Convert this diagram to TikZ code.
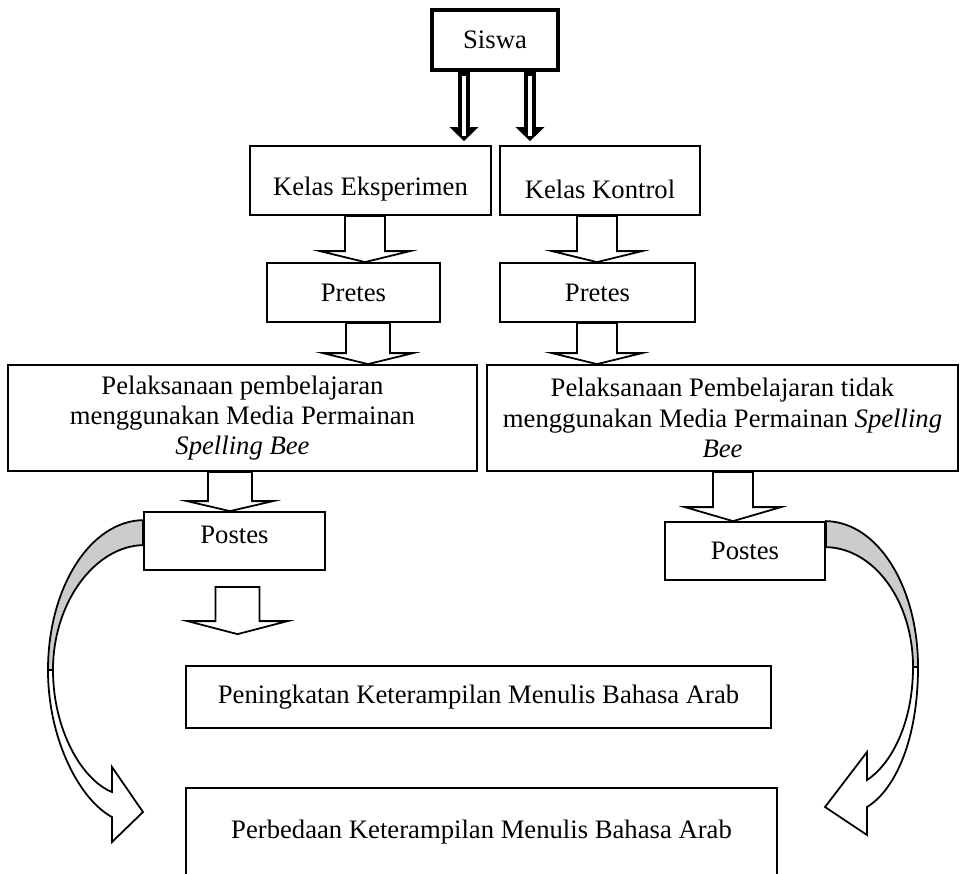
\documentclass[tikz,border=0pt]{standalone}
\usepackage{fontspec}
\setmainfont{Liberation Serif}
\usetikzlibrary{arrows.meta, calc}
\tikzset{
  stagebox/.style={
    rectangle, draw, line width=0.8pt, fill=white, align=center,
    inner sep=2pt, font=\fontsize{12}{13.6}\selectfont
  },
  boxsize/.style 2 args={
    minimum width=#1*0.45pt, minimum height=#2*0.45pt
  },
  blockarrow/.style={
    draw, line width=0.8pt, fill=white, line join=miter
  },
  doublearrow/.style={
    line width=5.4pt, -{Triangle[width=12.6pt, length=6.3pt]}
  },
  doubleslit/.style={
    white, line width=1.6pt
  },
  twistback/.style={
    draw, line width=0.8pt, fill=gray!40
  },
  twistfront/.style={
    draw, line width=0.8pt, fill=white, line join=miter
  }
}
% #1 from, #2 to, #3 x, #4 shaft half, #5 head half, #6 head length, #7 top gap, #8 bottom gap
\newcommand{\blockdown}[8]{%
  \draw[blockarrow]
    ($(#1.south -| #3-#4,0)+(0,#7)$) --
    ($(#2.north -| #3-#4,0)+(0,-#8-#6)$) --
    ($(#2.north -| #3-#5,0)+(0,-#8-#6)$) --
    ($(#2.north -| #3,0)+(0,-#8)$) --
    ($(#2.north -| #3+#5,0)+(0,-#8-#6)$) --
    ($(#2.north -| #3+#4,0)+(0,-#8-#6)$) --
    ($(#1.south -| #3+#4,0)+(0,#7)$) -- cycle;}

\begin{document}
\begin{tikzpicture}[x=0.45pt, y=-0.45pt]
  \useasboundingbox (0,0) rectangle (966,873);

  \node[stagebox, boxsize={126}{60}, line width=2.2pt] (siswa) at (495,40) {Siswa};
  \node[stagebox, boxsize={241}{69}, text height=16pt] (kelasE) at (370.5,180.5) {Kelas Eksperimen};
  \node[stagebox, boxsize={200}{69}, text height=16pt] (kelasK) at (600,180.5) {Kelas Kontrol};
  \node[stagebox, boxsize={173}{59}] (pretesE) at (353.5,292.5) {Pretes};
  \node[stagebox, boxsize={195}{59}] (pretesK) at (597.5,292.5) {Pretes};
  \node[stagebox, boxsize={469}{106}] (pelaksE) at (242.5,418)
    {Pelaksanaan pembelajaran\\ menggunakan Media Permainan\\ \textit{Spelling Bee}};
  \node[stagebox, boxsize={471}{106}] (pelaksK) at (722.5,418)
    {Pelaksanaan Pembelajaran tidak\\ menggunakan Media Permainan \textit{Spelling}\\ \textit{Bee}};
  \node[stagebox, boxsize={181}{58}, text depth=5.5pt] (postesE) at (234.5,541) {Postes};
  \node[stagebox, boxsize={160}{58}] (postesK) at (745,551) {Postes};
  \node[stagebox, boxsize={585}{62}] (tingkat) at (478.5,697) {Peningkatan Keterampilan Menulis Bahasa Arab};
  \node[stagebox, boxsize={591}{88}] (beda) at (481.5,832) {Perbedaan Keterampilan Menulis Bahasa Arab};

  % arrows from Siswa
  \draw[doublearrow] (siswa.south -| 464,0) -- ($(kelasE.north -| 464,0)+(0,-4)$);
  \draw[doublearrow] (siswa.south -| 530,0) -- ($(kelasK.north -| 530,0)+(0,-4)$);
  \draw[doubleslit] ($(siswa.south -| 464,0)+(0,4)$) -- ($(kelasE.north -| 464,0)+(0,-9)$);
  \draw[doubleslit] ($(siswa.south -| 530,0)+(0,4)$) -- ($(kelasK.north -| 530,0)+(0,-9)$);

  % block arrows
  \blockdown{kelasE}{pretesE}{365}{20}{45}{11}{0}{0}
  \blockdown{kelasK}{pretesK}{597}{20}{45}{11}{0}{0}
  \blockdown{pretesE}{pelaksE}{368}{22}{45}{11}{0}{0}
  \blockdown{pretesK}{pelaksK}{597}{20}{45}{11}{0}{0}
  \blockdown{pelaksE}{postesE}{230}{22}{43}{10}{0}{0}
  \blockdown{pelaksK}{postesK}{733}{20}{48}{14}{0}{0}
  \blockdown{postesE}{tingkat}{237.5}{22}{50}{13}{16}{31}

  % curved arrows to Perbedaan
  \coordinate (twLa) at ($(postesE.north west)+(0,9)$);
  \coordinate (twLb) at ($(postesE.north west)+(0,34)$);
  \coordinate (twLtip) at (143,812);
  \path[twistback] (twLa) .. controls (90,521) and (48,588) .. (48,670)
    -- (53,670) .. controls (53,601) and (96,546) .. (twLb) -- cycle;
  \path[twistfront] (48,670) .. controls (48,740) and (80,800) .. (112,817)
    -- (112,842) -- (twLtip) -- (112,767) -- (112,792)
    .. controls (82,780) and (53,730) .. (53,670) -- cycle;

  \coordinate (twRa) at (postesK.north east);
  \coordinate (twRb) at ($(postesK.north east)+(0,26)$);
  \coordinate (twRtip) at (825,807);
  \path[twistback] (twRa) .. controls (878,522) and (918,587) .. (918,667)
    -- (913,667) .. controls (913,601) and (874,548) .. (twRb) -- cycle;
  \path[twistfront] (918,667) .. controls (918,740) and (895,790) .. (867,807)
    -- (867,835) -- (twRtip) -- (867,752) -- (867,780)
    .. controls (890,765) and (913,725) .. (913,667) -- cycle;
\end{tikzpicture}
\end{document}
